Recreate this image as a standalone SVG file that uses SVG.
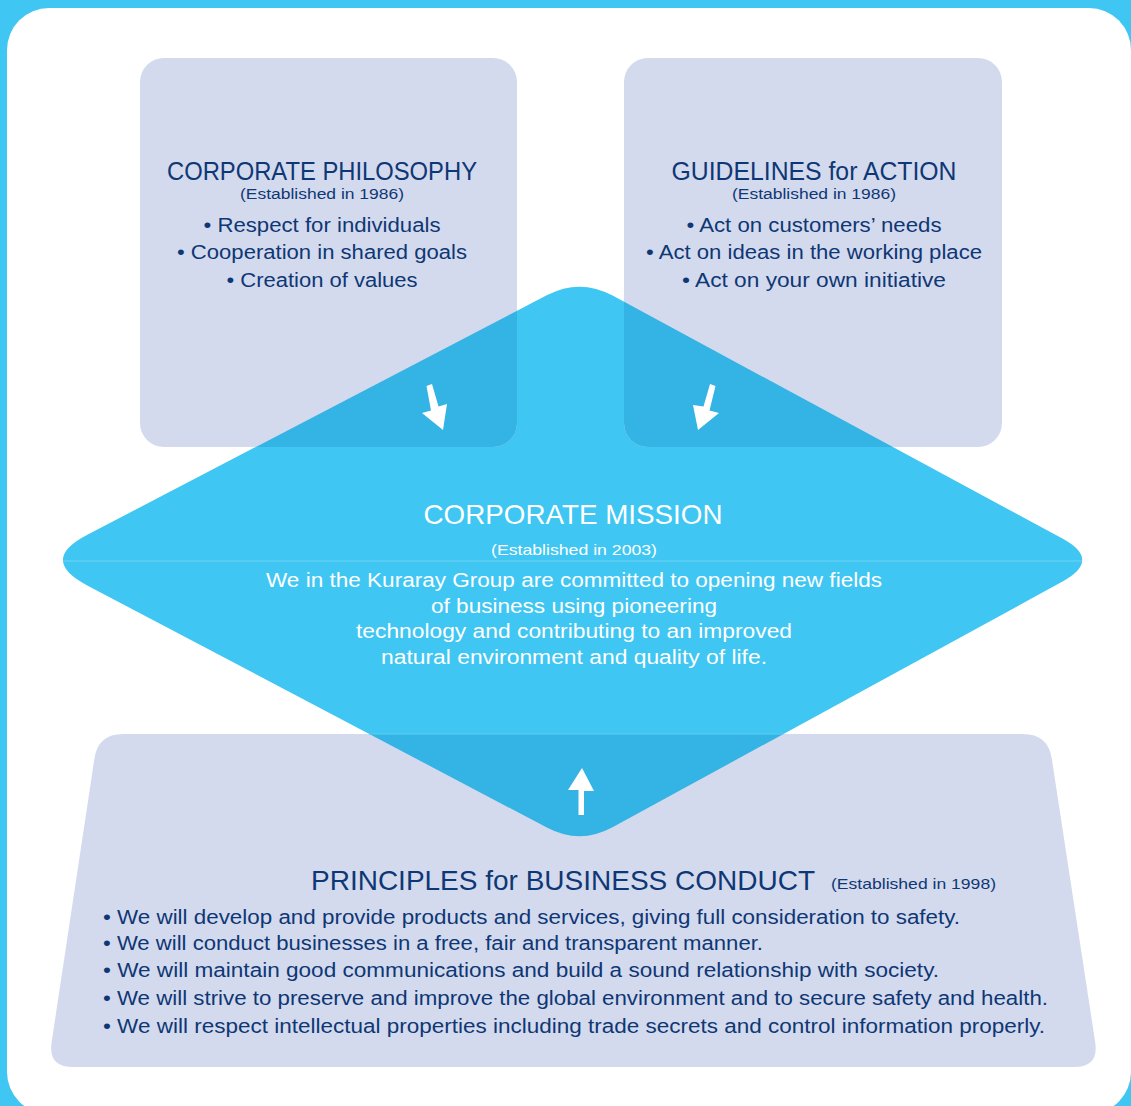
<svg xmlns="http://www.w3.org/2000/svg" width="1131" height="1106" viewBox="0 0 1131 1106">
<style>
.t{font-family:"Liberation Sans",Arial,sans-serif;fill:#0E3775}
.w{font-family:"Liberation Sans",Arial,sans-serif;fill:#FFFFFF}
.box{fill:#D4DAED}
.ov{fill:#34B3E5}
</style>
<defs>
<clipPath id="dclip"><path d="M547.2,295.1 Q580,278 612.6,295.6 L1062.4,538.6 Q1102,560 1062.5,581.6 L612.5,827.3 Q580,845 547.3,827.8 L86.8,585.2 Q39,560 86.9,535 Z"/></clipPath>
</defs>
<rect x="0" y="0" width="1131" height="1106" fill="#40C6F2"/>
<rect x="7" y="8" width="1124" height="1106" rx="42" fill="#FFFFFF"/>

<g id="mission">
<path d="M547.2,295.1 Q580,278 612.6,295.6 L1062.4,538.6 Q1102,560 1062.5,581.6 L612.5,827.3 Q580,845 547.3,827.8 L86.8,585.2 Q39,560 86.9,535 Z" fill="#40C6F2"/>
<line x1="63" y1="561" x2="1082" y2="561" stroke="#6FD4F6" stroke-width="1.2"/>
</g>

<g id="philosophy">
<rect class="box" x="140" y="58" width="377" height="389" rx="24"/>
<rect class="ov" x="140" y="58" width="377" height="389" rx="24" clip-path="url(#dclip)"/>
<text class="t" x="322" y="180" font-size="25" text-anchor="middle" textLength="310" lengthAdjust="spacingAndGlyphs">CORPORATE PHILOSOPHY</text>
<text class="t" x="322" y="199" font-size="14" text-anchor="middle" textLength="164" lengthAdjust="spacingAndGlyphs">(Established in 1986)</text>
<text class="t" x="322" y="232" font-size="20" text-anchor="middle" textLength="237" lengthAdjust="spacingAndGlyphs">• Respect for individuals</text>
<text class="t" x="322" y="259" font-size="20" text-anchor="middle" textLength="290" lengthAdjust="spacingAndGlyphs">• Cooperation in shared goals</text>
<text class="t" x="322" y="287" font-size="20" text-anchor="middle" textLength="191" lengthAdjust="spacingAndGlyphs">• Creation of values</text>
</g>

<g id="guidelines">
<rect class="box" x="624" y="58" width="378" height="389" rx="24"/>
<rect class="ov" x="624" y="58" width="378" height="389" rx="24" clip-path="url(#dclip)"/>
<text class="t" x="814" y="180" font-size="25" text-anchor="middle" textLength="285" lengthAdjust="spacingAndGlyphs">GUIDELINES for ACTION</text>
<text class="t" x="814" y="199" font-size="14" text-anchor="middle" textLength="164" lengthAdjust="spacingAndGlyphs">(Established in 1986)</text>
<text class="t" x="814" y="232" font-size="20" text-anchor="middle" textLength="255" lengthAdjust="spacingAndGlyphs">• Act on customers’ needs</text>
<text class="t" x="814" y="259" font-size="20" text-anchor="middle" textLength="336" lengthAdjust="spacingAndGlyphs">• Act on ideas in the working place</text>
<text class="t" x="814" y="287" font-size="20" text-anchor="middle" textLength="264" lengthAdjust="spacingAndGlyphs">• Act on your own initiative</text>
</g>

<g id="principles">
<path class="box" d="M123,734 L1023,734 Q1048,734 1051.8,758.7 L1095.2,1042.3 Q1099,1067 1074,1067 L73,1067 Q48,1067 51.6,1042.3 L94.4,758.7 Q98,734 123,734 Z"/>
<path class="ov" clip-path="url(#dclip)" d="M123,734 L1023,734 Q1048,734 1051.8,758.7 L1095.2,1042.3 Q1099,1067 1074,1067 L73,1067 Q48,1067 51.6,1042.3 L94.4,758.7 Q98,734 123,734 Z"/>
<line x1="369" y1="734" x2="783" y2="734" stroke="#5CCDF3" stroke-width="1"/>
<text class="t" x="311" y="890" font-size="28" textLength="504" lengthAdjust="spacingAndGlyphs">PRINCIPLES for BUSINESS CONDUCT</text>
<text class="t" x="831" y="889" font-size="15" textLength="165" lengthAdjust="spacingAndGlyphs">(Established in 1998)</text>
<text class="t" x="103" y="924" font-size="20" textLength="857" lengthAdjust="spacingAndGlyphs">• We will develop and provide products and services, giving full consideration to safety.</text>
<text class="t" x="103" y="950" font-size="20" textLength="660" lengthAdjust="spacingAndGlyphs">• We will conduct businesses in a free, fair and transparent manner.</text>
<text class="t" x="103" y="977" font-size="20" textLength="836" lengthAdjust="spacingAndGlyphs">• We will maintain good communications and build a sound relationship with society.</text>
<text class="t" x="103" y="1005" font-size="20" textLength="945" lengthAdjust="spacingAndGlyphs">• We will strive to preserve and improve the global environment and to secure safety and health.</text>
<text class="t" x="103" y="1033" font-size="20" textLength="942" lengthAdjust="spacingAndGlyphs">• We will respect intellectual properties including trade secrets and control information properly.</text>
</g>

<g id="mission-text">
<text class="w" x="573" y="524" font-size="28" text-anchor="middle" textLength="299" lengthAdjust="spacingAndGlyphs">CORPORATE MISSION</text>
<text class="w" x="574" y="555" font-size="15" text-anchor="middle" textLength="166" lengthAdjust="spacingAndGlyphs">(Established in 2003)</text>
<text class="w" x="574" y="587" font-size="20" text-anchor="middle" textLength="616" lengthAdjust="spacingAndGlyphs">We in the Kuraray Group are committed to opening new fields</text>
<text class="w" x="574" y="613" font-size="20" text-anchor="middle" textLength="286" lengthAdjust="spacingAndGlyphs">of business using pioneering</text>
<text class="w" x="574" y="638" font-size="20" text-anchor="middle" textLength="436" lengthAdjust="spacingAndGlyphs">technology and contributing to an improved</text>
<text class="w" x="574" y="664" font-size="20" text-anchor="middle" textLength="386" lengthAdjust="spacingAndGlyphs">natural environment and quality of life.</text>
</g>

<g id="connectors" fill="#FFFFFF" stroke="none">
<path d="M426.5,386 L432,384 L438.5,406.5 L447,404 L443,430 L422,413 L431,410.5 Z"/>
<path d="M715.5,386 L710,384 L703.5,406.5 L693,405 L698,430 L719,413 L709.5,410.5 Z"/>
<path d="M578.5,815 L584,815 L584,791 L594,791 L582,768 L568,790 L578.5,790 Z"/>
</g>
</svg>
